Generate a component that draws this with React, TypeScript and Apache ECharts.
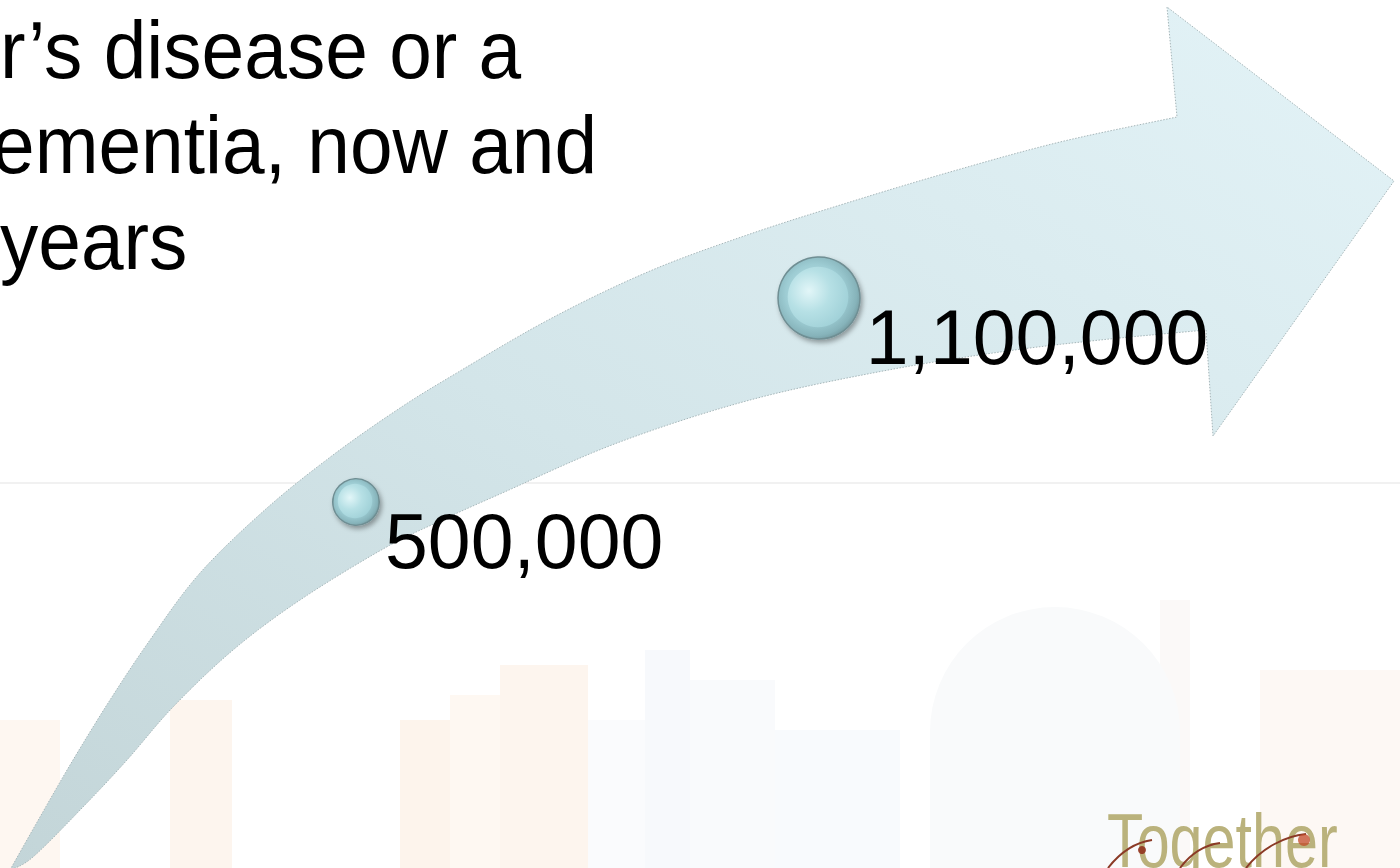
import React, { useEffect, useRef } from "react";
import * as echarts from "echarts";

// ---- data ----
const periods: string[] = ["Now", "In 20 years"];
const people: number[] = [500000, 1100000];
const titleLines: string[] = ["r\u2019s disease or a", "ementia, now and", "years"];
const logoText = "Together";

// ---- decoration geometry (not data) ----
const upperEdge: number[][] = [
  [10, 870], [40, 817], [73, 760], [110, 700], [150, 640], [200, 573], [267, 508],
  [333, 455], [397, 410], [450, 377], [550, 319], [650, 271], [750, 234], [850, 202],
  [950, 172], [1060, 142], [1177, 117],
];
const arrowHead: number[][] = [[1167, 7], [1394, 181], [1213, 436], [1206, 330]];
const lowerEdge: number[][] = [
  [1206, 330], [1100, 340], [1000, 352], [883, 371], [750, 400], [617, 443], [500, 494],
  [440, 521], [383, 549], [300, 600], [233, 650], [173, 707], [127, 760], [83, 807],
  [33, 857], [10, 870],
];

function catmull(pts: number[][], n: number): number[][] {
  const out: number[][] = [];
  for (let i = 0; i < pts.length - 1; i++) {
    const p0 = pts[i - 1] || pts[i];
    const p1 = pts[i];
    const p2 = pts[i + 1];
    const p3 = pts[i + 2] || pts[i + 1];
    for (let k = 0; k < n; k++) {
      const t = k / n, t2 = t * t, t3 = t2 * t;
      const f = (j: number) =>
        0.5 * (2 * p1[j] + (-p0[j] + p2[j]) * t + (2 * p0[j] - 5 * p1[j] + 4 * p2[j] - p3[j]) * t2 +
          (-p0[j] + 3 * p1[j] - 3 * p2[j] + p3[j]) * t3);
      out.push([f(0), f(1)]);
    }
  }
  out.push(pts[pts.length - 1]);
  return out;
}

const bgBlocks = [
  { x: 0, y: 720, w: 60, h: 148, c: "#fef7f1" },
  { x: 170, y: 700, w: 62, h: 168, c: "#fdf5ee" },
  { x: 400, y: 720, w: 50, h: 148, c: "#fdf4ec" },
  { x: 450, y: 695, w: 50, h: 173, c: "#fef8f2" },
  { x: 500, y: 665, w: 88, h: 203, c: "#fdf5ee" },
  { x: 588, y: 720, w: 57, h: 148, c: "#fafbfd" },
  { x: 645, y: 650, w: 45, h: 218, c: "#f7f9fc" },
  { x: 690, y: 680, w: 85, h: 188, c: "#f9fafc" },
  { x: 775, y: 730, w: 125, h: 138, c: "#f8fafd" },
  { x: 1160, y: 600, w: 30, h: 268, c: "#fbf9f8" },
  { x: 1260, y: 670, w: 140, h: 198, c: "#fdf8f4" },
];

export default function App() {
  const ref = useRef<HTMLDivElement>(null);
  useEffect(() => {
    if (!ref.current) return;
    const chart = echarts.init(ref.current, undefined, { renderer: "svg" });
    const maxVal = Math.max(...people);
    const arrowPts = [...catmull(upperEdge, 10), ...arrowHead, ...catmull(lowerEdge, 10)];
    const font = "'Liberation Sans', Arial, sans-serif";

    const graphics: any[] = [
      ...bgBlocks.map((b) => ({
        type: "rect", z: 0, silent: true,
        shape: { x: b.x, y: b.y, width: b.w, height: b.h },
        style: { fill: b.c },
      })),
      {
        type: "rect", z: 0, silent: true,
        shape: { x: 930, y: 607, width: 250, height: 261, r: [125, 125, 0, 0] },
        style: { fill: "#f9fafb" },
      },
      {
        type: "line", z: 0, silent: true,
        shape: { x1: 0, y1: 483, x2: 1400, y2: 483 },
        style: { stroke: "#f1f1f1", lineWidth: 2 },
      },
      {
        type: "polygon", z: 1, silent: true,
        shape: { points: arrowPts },
        style: {
          fill: {
            type: "linear", x: 0, y: 1, x2: 1, y2: 0,
            colorStops: [
              { offset: 0, color: "#c3d5d8" },
              { offset: 0.45, color: "#d3e5e9" },
              { offset: 1, color: "#e3f3f7" },
            ],
          },
          stroke: "#a6b6b9",
          lineWidth: 1,
          lineDash: [1.5, 1.5],
        },
      },
      ...titleLines.map((t, i) => ({
        type: "text", z: 10, silent: true,
        x: [0, -8, 0][i],
        y: [50, 145, 241][i],
        scaleX: 0.935,
        style: {
          text: t, x: 0, y: 0, fill: "#000000",
          font: `82px ${font}`,
          textAlign: "left", textVerticalAlign: "middle",
        },
      })),
      {
        type: "text", z: 10, silent: true,
        x: 1107, y: 840, scaleX: 0.78,
        style: {
          text: logoText, x: 0, y: 0, fill: "#bab27c",
          font: `76px ${font}`,
          textAlign: "left", textVerticalAlign: "middle",
        },
      },
      {
        type: "bezierCurve", z: 11, silent: true,
        shape: { x1: 1108, y1: 868, x2: 1152, y2: 840, cpx1: 1122, cpy1: 850, cpx2: 1138, cpy2: 842 },
        style: { stroke: "#8b3a26", lineWidth: 2, fill: null },
      },
      {
        type: "bezierCurve", z: 11, silent: true,
        shape: { x1: 1180, y1: 868, x2: 1220, y2: 843, cpx1: 1192, cpy1: 852, cpx2: 1205, cpy2: 845 },
        style: { stroke: "#8b3a26", lineWidth: 2, fill: null },
      },
      {
        type: "bezierCurve", z: 11, silent: true,
        shape: { x1: 1246, y1: 868, x2: 1306, y2: 834, cpx1: 1262, cpy1: 848, cpx2: 1285, cpy2: 836 },
        style: { stroke: "#8b3a26", lineWidth: 2, fill: null },
      },
      {
        type: "circle", z: 11, silent: true,
        shape: { cx: 1142, cy: 850, r: 4 },
        style: { fill: "#8e2a18", opacity: 0.85 },
      },
      {
        type: "circle", z: 11, silent: true,
        shape: { cx: 1304, cy: 840, r: 6 },
        style: { fill: "#c24a28", opacity: 0.75 },
      },
    ];

    const seriesData = people.map((v, i) => [periods[i], v]);
    const sizeOf = (v: any) => 82 * Math.pow(v[1] / maxVal, 0.72);

    chart.setOption({
      animation: false,
      backgroundColor: "#ffffff",
      grid: { left: 356, top: 298, width: 463, height: 204 },
      xAxis: { type: "category", data: periods, boundaryGap: false, show: false },
      yAxis: { type: "value", min: 500000, max: 1100000, show: false },
      graphic: graphics,
      series: [
        {
          type: "scatter", z: 5, clip: false,
          data: seriesData,
          symbol: "circle",
          symbolSize: sizeOf,
          itemStyle: {
            color: {
              type: "radial", x: 0.45, y: 0.45, r: 0.6,
              colorStops: [
                { offset: 0, color: "#c6e9ee" },
                { offset: 0.6, color: "#9dccd3" },
                { offset: 0.85, color: "#86b3ba" },
                { offset: 1, color: "#6d9197" },
              ],
            },
            borderColor: "#6f8e93",
            borderWidth: 1.5,
            shadowBlur: 5,
            shadowOffsetX: 2,
            shadowOffsetY: 3,
            shadowColor: "rgba(0,0,0,0.35)",
            opacity: 1,
          },
          label: {
            show: true,
            position: "right",
            distance: 5,
            offset: [0, 39],
            formatter: (p: any) => Number(p.value[1]).toLocaleString("en-US"),
            fontSize: 77,
            fontFamily: "Liberation Sans",
            color: "#000000",
          },
        },
        {
          type: "scatter", z: 6, clip: false, silent: true,
          data: seriesData,
          symbol: "circle",
          symbolSize: (v: any) => sizeOf(v) * 0.74,
          symbolOffset: [-1, -1],
          itemStyle: {
            color: {
              type: "radial", x: 0.35, y: 0.4, r: 0.7,
              colorStops: [
                { offset: 0, color: "#e2f6f8" },
                { offset: 0.5, color: "#b6e0e5" },
                { offset: 1, color: "#9fd0d7" },
              ],
            },
            opacity: 1,
          },
          label: { show: false },
        },
      ],
    });
    return () => chart.dispose();
  }, []);
  return (
    <div
      ref={ref}
      style={{ position: "fixed", left: 0, top: 0, width: 1400, height: 868 }}
    />
  );
}
